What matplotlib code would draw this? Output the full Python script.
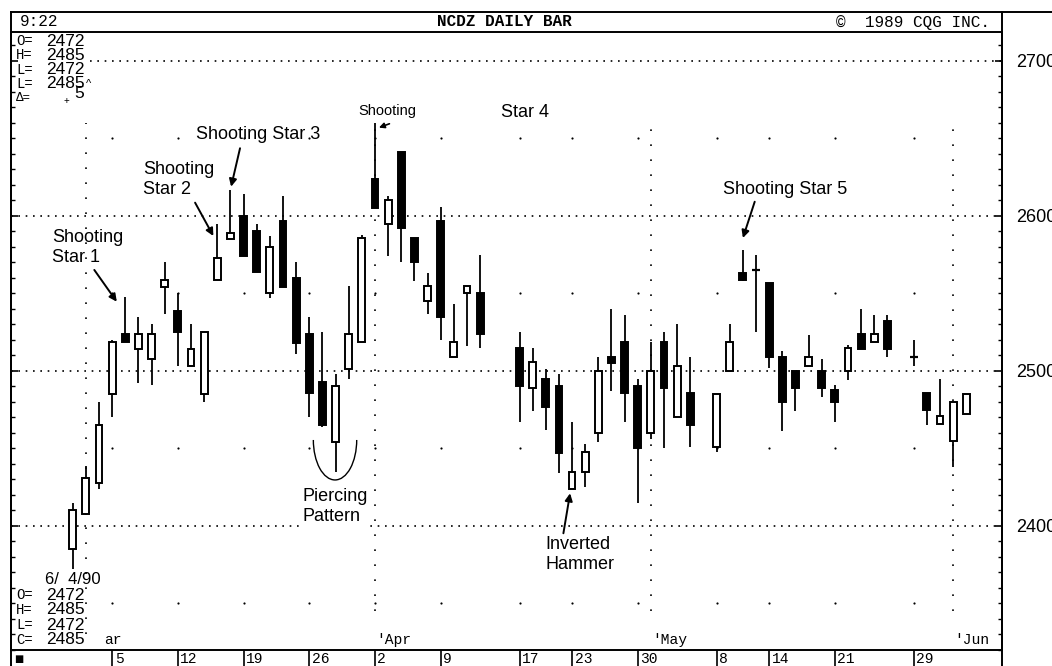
import numpy as np
import pandas as pd
import matplotlib
matplotlib.use('Agg')
import matplotlib.pyplot as plt
from matplotlib.patches import Arc
from matplotlib.lines import Line2D
from matplotlib.ticker import MultipleLocator, FixedLocator
from matplotlib.transforms import blended_transform_factory, offset_copy

# trading days (market closed on these)
holidays = ['1990-04-13', '1990-04-16', '1990-05-07', '1990-05-28']
dates = pd.bdate_range('1990-02-28', '1990-06-04')
dates = dates[~dates.isin(pd.to_datetime(holidays))]

opens = [2385, 2408, 2428, 2485, 2524, 2514, 2508, 2554, 2539, 2503, 2485, 2559, 2585,
         2600, 2590, 2550, 2597, 2560, 2524, 2493, 2454, 2501, 2519, 2624, 2595, 2641,
         2586, 2545, 2597, 2509, 2550, 2550, 2515, 2489, 2495, 2490, 2424, 2435, 2460,
         2509, 2519, 2490, 2460, 2519, 2470, 2486, 2451, 2500, 2563, 2565, 2557, 2509,
         2500, 2503, 2500, 2488, 2500, 2524, 2519, 2532, 2509, 2486, 2466, 2455, 2472]
highs = [2415, 2439, 2480, 2520, 2548, 2535, 2530, 2570, 2550, 2530, 2525, 2595, 2617,
         2614, 2595, 2587, 2613, 2570, 2535, 2525, 2498, 2555, 2588, 2660, 2613, 2641,
         2586, 2563, 2606, 2543, 2555, 2575, 2525, 2515, 2501, 2498, 2467, 2453, 2509,
         2540, 2536, 2495, 2519, 2525, 2530, 2509, 2485, 2530, 2578, 2575, 2557, 2513,
         2500, 2523, 2508, 2491, 2517, 2540, 2536, 2536, 2520, 2486, 2495, 2480, 2485]
lows = [2372, 2407, 2424, 2470, 2519, 2492, 2491, 2537, 2503, 2503, 2480, 2559, 2585,
        2574, 2564, 2547, 2554, 2511, 2470, 2464, 2435, 2495, 2519, 2605, 2574, 2570,
        2558, 2537, 2520, 2509, 2516, 2515, 2467, 2474, 2462, 2434, 2424, 2425, 2454,
        2487, 2467, 2415, 2456, 2450, 2470, 2451, 2448, 2500, 2558, 2525, 2502, 2461,
        2474, 2503, 2483, 2467, 2494, 2514, 2519, 2509, 2503, 2465, 2466, 2438, 2472]
closes = [2410, 2431, 2465, 2519, 2519, 2524, 2524, 2559, 2525, 2514, 2525, 2573, 2589,
          2574, 2564, 2580, 2554, 2518, 2486, 2465, 2490, 2524, 2586, 2605, 2610, 2592,
          2570, 2555, 2535, 2519, 2555, 2524, 2490, 2506, 2477, 2447, 2435, 2448, 2500,
          2505, 2486, 2450, 2500, 2489, 2503, 2465, 2485, 2519, 2559, 2565, 2509, 2480,
          2489, 2509, 2489, 2480, 2515, 2514, 2524, 2514, 2509, 2475, 2471, 2480, 2485]

week_dates = ['1990-03-05', '1990-03-12', '1990-03-19', '1990-03-26', '1990-04-02',
              '1990-04-09', '1990-04-17', '1990-04-23', '1990-04-30', '1990-05-08',
              '1990-05-14', '1990-05-21', '1990-05-29']
week_labels = ['5', '12', '19', '26', '2', '9', '17', '23', '30', '8', '14', '21', '29']
month_dates = ['1990-03-01', '1990-04-02', '1990-05-01', '1990-06-01']
month_labels = ['ar', "'Apr", "'May", "'Jun"]
price_ticks = [2400, 2500, 2600, 2700]


def slot(d):
    # position on the chart = weekday count from the first bar
    return np.busday_count(np.datetime64('1990-02-28'), np.array(d, dtype='datetime64[D]'))


x = slot(dates.values.astype('datetime64[D]'))
week_x = slot(week_dates)
month_x = slot(month_dates)

W, H = 1052, 666
fig = plt.figure(figsize=(W / 100, H / 100), dpi=100)
ax = fig.add_axes([11 / W, 16 / H, 991 / W, 618 / H])
ax.set_xlim(-4.70, 70.72)
ax.set_ylim(2320, 2718.7)

mono = 'Liberation Mono'
sans = 'Liberation Sans'

# dotted grid
dot = (0, (1, 3.4))
for p in price_ticks:
    xs = 1.3 if p == 2700 else -4.7
    ax.hlines(p, xs, 70.72, colors='black', linestyles=[dot], linewidth=1.2, zorder=1)
ax.vlines(month_x[:1], 2330, 2660, colors='black', linestyles=[(0, (1, 8))], linewidth=1.2, zorder=1)
ax.vlines(month_x[1:], 2345, 2660, colors='black', linestyles=[(0, (1, 8))], linewidth=1.2, zorder=1)
for lv in [2350, 2450, 2550, 2650]:
    ax.scatter(week_x, [lv] * len(week_x), s=2.5, color='black', zorder=1, linewidths=0)

# candles
o = np.array(opens, dtype=float)
c = np.array(closes, dtype=float)
ax.vlines(x, lows, highs, color='black', linewidth=1.3, zorder=2)
up = c > o
down = c < o
doji = c == o
ax.bar(x[up], (c - o)[up], bottom=o[up], width=0.52, facecolor='white',
       edgecolor='black', linewidth=1.4, zorder=3)
ax.bar(x[down], (o - c)[down], bottom=c[down], width=0.52, facecolor='black',
       edgecolor='black', linewidth=1.4, zorder=3)
ax.hlines(o[doji], x[doji] - 0.3, x[doji] + 0.3, color='black', linewidth=1.6, zorder=3)

# annotations
ann = dict(fontsize=13, family=sans, color='black', va='top', ha='left', linespacing=1.25)
arrow = dict(arrowstyle='-|>', color='black', lw=1.4, mutation_scale=11, shrinkA=0, shrinkB=0)
ax.text(-1.58, 2591.5, 'Shooting\nStar 1', **ann)
ax.annotate('', xy=(3.35, 2544.7), xytext=(1.64, 2565.2), arrowprops=arrow)
ax.text(5.35, 2635.5, 'Shooting\nStar 2', **ann)
ax.annotate('', xy=(10.7, 2587.1), xytext=(9.31, 2608.6), arrowprops=arrow)
ax.text(9.39, 2658, 'Shooting Star 3', **ann)
ax.annotate('', xy=(12.05, 2618.9), xytext=(12.73, 2643.7), arrowprops=arrow)
ax.text(21.7, 2672.5, 'Shooting', fontsize=10.5, family=['Liberation Sans Narrow', sans],
        va='top', ha='left')
ax.text(32.6, 2672.5, 'Star 4', **ann)
ax.annotate('', xy=(23.3, 2657.0), xytext=(24.1, 2659.5),
            arrowprops=dict(arrowstyle='-|>', color='black', lw=1.2, mutation_scale=8,
                            shrinkA=0, shrinkB=0))
ax.text(49.49, 2622.6, 'Shooting Star 5', **ann)
ax.annotate('', xy=(51.0, 2585.8), xytext=(51.9, 2609.2), arrowprops=arrow)
ax.text(17.45, 2424.5, 'Piercing\nPattern', bbox=dict(fc='white', ec='none', pad=1), **ann)
ax.add_patch(Arc((19.96, 2455.5), 3.3, 51.6, theta1=180, theta2=360, color='black', lw=1.0))
ax.text(35.95, 2393.5, 'Inverted\nHammer', **ann)
ax.annotate('', xy=(37.85, 2421.1), xytext=(37.34, 2395.3), arrowprops=arrow)

# axes styling
for s in ['left', 'right', 'top', 'bottom']:
    ax.spines[s].set_linewidth(1.4)
ax.yaxis.set_major_locator(FixedLocator(price_ticks))
ax.yaxis.set_minor_locator(MultipleLocator(10))
ax.tick_params(axis='y', which='both', direction='in', left=True, right=True,
               labelleft=False, labelright=True, labelsize=13, pad=10)
ax.tick_params(axis='y', which='major', length=5, width=1.2)
ax.tick_params(axis='y', which='minor', length=3, width=1.0)
for lab in ax.get_yticklabels():
    lab.set_family(sans)
ax.set_xticks(week_x)
ax.tick_params(axis='x', which='major', direction='out', length=12, width=1.2,
               labelbottom=False)

trans = blended_transform_factory(ax.transData, ax.transAxes)
for wx, wl in zip(week_x, week_labels):
    ax.text(wx, 0, wl, transform=offset_copy(trans, fig=fig, x=2.5, y=-2, units='dots'),
            fontsize=10.5, family=mono, va='top', ha='left', clip_on=False)
for i, (mx, ml) in enumerate(zip(month_x, month_labels)):
    dx = 18 if i == 0 else 1
    ax.text(mx, 0, ml, transform=offset_copy(trans, fig=fig, x=dx, y=3, units='dots'),
            fontsize=10.5, family=mono, va='bottom', ha='left')


def px(xp, yp):
    return xp / W, 1 - yp / H


# title bar and frame
fig.add_artist(Line2D([11 / W, 1], [1 - 12 / H] * 2, color='black', lw=1.4))
fig.add_artist(Line2D([11 / W, 11 / W], [0, 1 - 12 / H], color='black', lw=1.4))
fig.add_artist(Line2D([1002 / W, 1002 / W], [0, 1 - 12 / H], color='black', lw=1.4))
fig.text(*px(20, 22), '9:22', fontsize=11.5, family=mono, va='center', ha='left')
fig.text(*px(504, 22), 'NCDZ DAILY BAR', fontsize=11.5, family=mono, va='center',
         ha='center', weight='bold')
fig.text(*px(990, 22), '\u00a9  1989 CQG INC.', fontsize=11.5, family=mono, va='center',
         ha='right')

# quote boxes
top_keys = ['O=', 'H=', 'L=', 'L=']
top_vals = ['2472', '2485', '2472', '2485']
for i, (k, v) in enumerate(zip(top_keys, top_vals)):
    yy = 41 + i * 14.3
    fig.text(*px(16, yy), k, fontsize=10, family=mono, va='center', ha='left')
    fig.text(*px(46, yy), v, fontsize=12.5, family=sans, va='center', ha='left')
fig.text(*px(86, 84), '^', fontsize=8, family=sans, va='center', ha='left')
fig.text(*px(16, 98), '\u0394=', fontsize=9, family=mono, va='center', ha='left')
fig.text(*px(64, 101), '+', fontsize=7, family=sans, va='center', ha='left')
fig.text(*px(74, 94), '5', fontsize=12.5, family=sans, va='center', ha='left')

fig.text(*px(45, 579), '6/  4/90', fontsize=12, family=sans, va='center', ha='left')
bot_keys = ['O=', 'H=', 'L=', 'C=']
bot_vals = ['2472', '2485', '2472', '2485']
for i, (k, v) in enumerate(zip(bot_keys, bot_vals)):
    yy = 595 + i * 15
    fig.text(*px(16, yy), k, fontsize=10, family=mono, va='center', ha='left')
    fig.text(*px(46, yy), v, fontsize=12.5, family=sans, va='center', ha='left')

fig.text(*px(14, 659), '\u25a0', fontsize=7, family='DejaVu Sans', va='center', ha='left')

fig.savefig('out.png', dpi=100, facecolor='white')
